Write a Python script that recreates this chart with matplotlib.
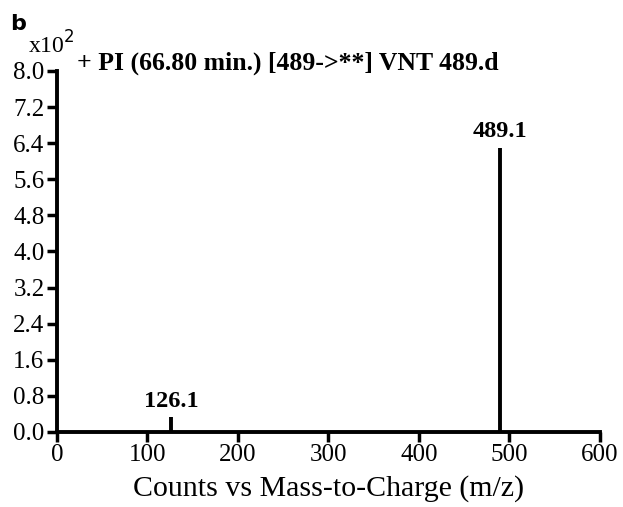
import matplotlib
matplotlib.use("Agg")
import matplotlib.pyplot as plt

mz = [65.0, 126.1, 364.0, 489.1]
counts = [0.02, 0.33, 0.01, 6.30]
labeled_mz = [126.1, 489.1]
labeled_counts = [0.33, 6.30]
xticks = [0, 100, 200, 300, 400, 500, 600]
yticks = [0.0, 0.8, 1.6, 2.4, 3.2, 4.0, 4.8, 5.6, 6.4, 7.2, 8.0]

plt.rcParams['font.family'] = ['Liberation Serif', 'DejaVu Serif']

fig = plt.figure(figsize=(6.23, 5.07), dpi=100)
ax = fig.add_axes([0.0915, 0.148, 0.8715, 0.712])

ax.vlines(mz, 0, counts, colors='black', linewidth=2.8)
for x, y in zip(labeled_mz, labeled_counts):
    ax.annotate(f"{x:.1f}", (x, y), xytext=(0, 4), textcoords='offset points',
                ha='center', va='bottom', fontsize=17.5, fontweight='bold')

ax.set_xlim(0, 600)
ax.set_ylim(0, 8.0)
ax.set_xticks(xticks)
ax.set_yticks(yticks)
ax.set_yticklabels([f"{v:.1f}" for v in yticks])
for s in ['top', 'right']:
    ax.spines[s].set_visible(False)
for s in ['left', 'bottom']:
    ax.spines[s].set_linewidth(2.8)
ax.tick_params(axis='both', which='major', width=2.5, length=7, labelsize=18, direction='out', pad=2)
ax.set_xlabel("Counts vs Mass-to-Charge (m/z)", fontsize=21.5, labelpad=6)

fig.text(0.016, 0.941, "b", fontsize=16, fontweight='bold', family='DejaVu Sans', va='baseline', ha='left')
fig.text(0.045, 0.895, r"x10$^2$", fontsize=17, va='baseline', ha='left')
fig.text(0.124, 0.862, "+ PI (66.80 min.) [489->**] VNT 489.d", fontsize=18.5, fontweight='bold', va='baseline', ha='left')

fig.savefig("out.png", dpi=100)
